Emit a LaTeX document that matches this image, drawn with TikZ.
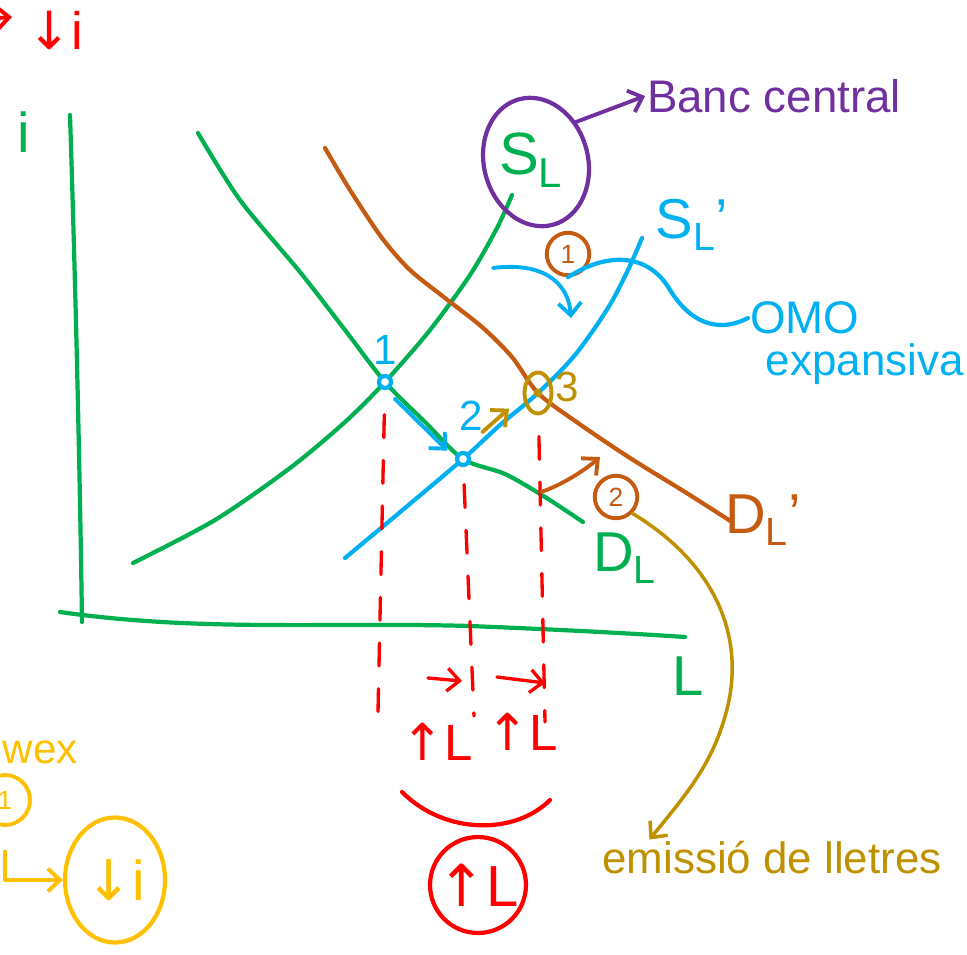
\documentclass[tikz,border=0pt]{standalone}
\usepackage{fontspec}
\setmainfont{Liberation Sans}
\newfontfamily\symfont{DejaVu Sans}
\usetikzlibrary{arrows.meta,positioning,shapes.geometric}
\definecolor{grnCol}{HTML}{00B050}
\definecolor{redCol}{HTML}{FF0000}
\definecolor{bluCol}{HTML}{00B0F0}
\definecolor{brnCol}{HTML}{C55A11}
\definecolor{prpCol}{HTML}{7030A0}
\definecolor{goldCol}{HTML}{BF9000}
\definecolor{ylwCol}{HTML}{FFC000}
\tikzset{
  pen/.style={line width=2.4pt, line cap=round, line join=round},
  drop/.style={draw=redCol, line width=1.9pt, dash pattern=on 13pt off 13pt, line cap=round},
  ink/.style={-{Straight Barb[length=7pt,width=13pt]}, line width=2.2pt, line cap=round, line join=round},
  hand/.style={inner sep=1pt, font=\fontsize{#1}{#1}\selectfont},
  hand/.default=26,
  ring/.style={draw, circle, line width=2.2pt, inner sep=1pt, minimum size=0.85cm,
               font=\fontsize{15}{15}\selectfont},
  ptmark/.style={circle, draw=bluCol, fill=white, line width=2.4pt, minimum size=0.24cm, inner sep=0pt},
}
\newcommand{\dn}{{\symfont\char"2193}}
\newcommand{\up}{{\symfont\char"2191}}

\begin{document}
\begin{tikzpicture}[x=0.02cm,y=-0.02cm]
  \useasboundingbox (0,0) rectangle (967,954);

  % axes
  \draw[pen,grnCol] (70,115) .. controls (76,300) and (80,480) .. (82,622);
  \draw[pen,grnCol] (60,612) .. controls (200,632) and (330,622) .. (470,626)
                    .. controls (570,630) and (640,634) .. (685,637);
  \node[hand=32,text=grnCol] (iax) at (24,132) {i};
  \node[hand=32,text=grnCol] (lax) at (688,676) {L};

  % supply and demand of loanable funds
  \draw[pen,grnCol] plot[smooth] coordinates {(133,563) (215,520) (290,468) (345,422) (385,382)
                    (430,330) (470,275) (497,228) (512,195)};
  \draw[pen,grnCol] plot[smooth] coordinates {(198,133) (240,200) (300,272) (345,330) (385,382)
                    (425,422) (463,459) (505,474) (545,497) (583,522)};
  \draw[pen,brnCol] plot[smooth] coordinates {(325,148) (350,190) (382,238) (410,270) (445,298)
                    (482,327) (512,357) (538,393) (578,423) (630,458) (685,492) (732,522)};
  \draw[pen,bluCol] plot[smooth] coordinates {(345,558) (405,508) (463,459) (500,425) (538,393)
                    (575,355) (608,308) (628,270) (642,238)};

  \node[hand=34,text=grnCol] (sl)   at (531,160) {S\textsubscript{L}};
  \node[hand=32,text=bluCol] (slp)  at (692,225) {S\textsubscript{L}'};
  \node[hand=32,text=grnCol] (dl)   at (625,558) {D\textsubscript{L}};
  \node[hand=32,text=brnCol] (dlp)  at (763,520) {D\textsubscript{L}'};

  % equilibria
  \coordinate (b1) at (378,712);
  \coordinate (b2) at (474,716);
  \coordinate (b3) at (545,722);
  \node[ptmark] (p1) at (385,382) {};
  \node[ptmark] (p2) at (463,459) {};
  \node[draw=goldCol, ellipse, line width=2.2pt, minimum width=0.54cm, minimum height=0.82cm,
        inner sep=0pt] (p3) at (538,393) {};
  \fill[goldCol] (p3.center) circle (2.5pt);
  \node[hand=24,text=bluCol]  (n1) at (385,350) {1};
  \node[hand=24,text=bluCol]  (n2) at (471,416) {2};
  \node[hand=24,text=goldCol] (n3) at (567,387) {3};
  \draw[ink,bluCol,shorten <=6pt,shorten >=5pt,transform canvas={xshift=-2pt,yshift=-2pt}] (p1) -- (p2);
  \draw[ink,goldCol,shorten <=14pt,shorten >=8pt,transform canvas={xshift=-3pt,yshift=3pt}] (p2) -- (p3);
  \draw[drop,shorten <=14pt] (p1) -- (b1);
  \draw[drop,shorten <=10pt] (p2) -- (b2);
  \draw[drop,shorten <=12pt] (p3) -- (b3);

  % central bank, OMO
  \node[draw=prpCol, ellipse, line width=2.4pt, minimum width=2.08cm, minimum height=2.6cm,
        rotate=15] (slring) at (536,162) {};
  \node[hand=26,text=prpCol,anchor=west] (banc) at (645,96) {Banc central};
  \draw[ink,prpCol] (slring.30) -- (banc.west);
  \node[ring,draw=brnCol,text=brnCol] (c1) at (568,254) {1};
  \coordinate (ba1) at (493,268);
  \coordinate (ba2) at (571,318);
  \draw[ink,bluCol] (ba1) .. controls (540,262) and (568,280) .. (ba2);
  \node[hand=26,text=bluCol,anchor=west] (omo) at (748,318) {OMO};
  \node[hand=25,text=bluCol,anchor=north west] (expv) at ([xshift=9pt,yshift=-3pt]omo.south west) {expansiva};
  \draw[pen,bluCol] (c1.south) .. controls (610,250) and (650,255) .. (670,290)
                    .. controls (695,330) and (725,330) .. (omo.west);

  % bill issue
  \node[ring,draw=brnCol,text=brnCol] (c2) at (616,497) {2};
  \coordinate (ba3) at (541,492);
  \coordinate (ba4) at (600,457);
  \draw[ink,brnCol] (ba3) .. controls (562,485) and (585,470) .. (ba4);
  \node[hand=25,text=goldCol] (emis) at (772,858) {emissió de lletres};
  \draw[ink,goldCol,line width=2pt] (c2.south east) .. controls (710,560) and (745,630) .. (728,705)
                    .. controls (715,760) and (690,790) .. ([xshift=28pt]emis.north west);

  % quantity of loans
  \coordinate (ra1) at (428,678);
  \coordinate (ra2) at (462,681);
  \coordinate (ra3) at (497,677);
  \coordinate (ra4) at (545,683);
  \draw[ink,redCol,line width=1.9pt] (ra1) -- (ra2);
  \draw[ink,redCol,line width=1.9pt] (ra3) -- (ra4);
  \node[hand=29,text=redCol] (up1) at (437,742) {\up L};
  \node[hand=29,text=redCol] (up2) at (522,732) {\up L};
  \coordinate (arcl) at (402,792);
  \coordinate (arcr) at (550,800);
  \draw[pen,redCol] (arcl) .. controls (445,835) and (515,835) .. (arcr);
  \node[draw=redCol, circle, line width=2.4pt, minimum size=1.9cm, hand=33, text=redCol] (tot) at (478,885) {\up L};

  % interest rate
  \node[hand=30,text=redCol] (topi) at (55,30) {\dn i};
  \coordinate (tl0) at (-30,20);
  \coordinate (tl1) at (12,17);
  \draw[ink,redCol] (tl0) -- (tl1);
  \node[hand=24,text=ylwCol,anchor=east] (wex) at (80,752) {wex};
  \node[ring,draw=ylwCol,text=ylwCol,minimum size=1cm] (y1) at (5,800) {1};
  \node[draw=ylwCol, ellipse, line width=2.4pt, minimum width=2cm, minimum height=2.5cm,
        hand=32, text=ylwCol] (ydn) at (115,880) {\dn i};
  \draw[ink,ylwCol] ([yshift=-14pt]y1.south) |- (ydn.west);
\end{tikzpicture}
\end{document}
